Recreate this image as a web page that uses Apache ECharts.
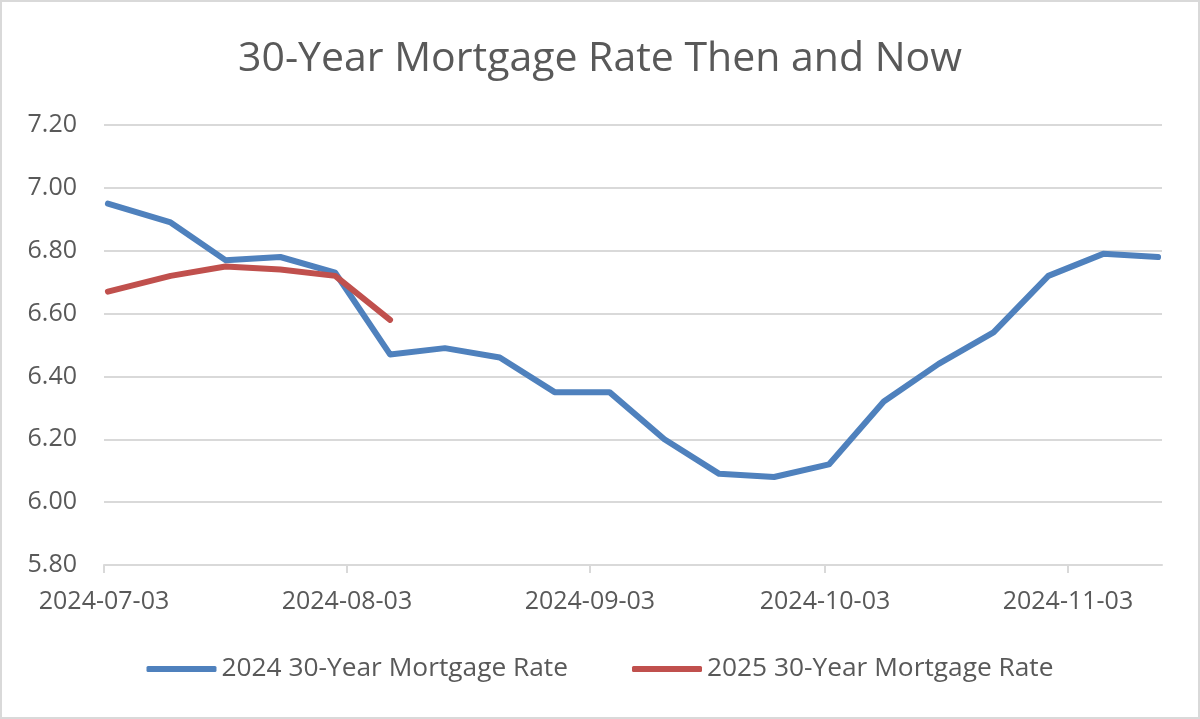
<!DOCTYPE html>
<html>
<head>
<meta charset="utf-8">
<script src="https://cdn.jsdelivr.net/npm/echarts@6/dist/echarts.min.js"></script>
<style>
  html, body { margin: 0; padding: 0; background: #fff; }
  #main { width: 1196px; height: 715px; border: 2px solid #d9d9d9; }
</style>
</head>
<body>
<div id="main"></div>
<script>
var dates = ['2024-07-03', '2024-07-11', '2024-07-18', '2024-07-25', '2024-08-01',
             '2024-08-08', '2024-08-15', '2024-08-22', '2024-08-29', '2024-09-05',
             '2024-09-12', '2024-09-19', '2024-09-26', '2024-10-03', '2024-10-10',
             '2024-10-17', '2024-10-24', '2024-10-31', '2024-11-07', '2024-11-14'];
var rate2024 = [6.95, 6.89, 6.77, 6.78, 6.73, 6.47, 6.49, 6.46, 6.35, 6.35,
                6.20, 6.09, 6.08, 6.12, 6.32, 6.44, 6.54, 6.72, 6.79, 6.78];
var rate2025 = [6.67, 6.72, 6.75, 6.74, 6.72, 6.58];
var tickDates = ['2024-07-03', '2024-08-03', '2024-09-03', '2024-10-03', '2024-11-03'];
var seriesNames = ['2024 30-Year Mortgage Rate', '2025 30-Year Mortgage Rate'];

// dates as whole days since epoch (UTC), so the axis is a plain day count
function dayNum(s) {
    var p = s.split('-');
    return Date.UTC(+p[0], +p[1] - 1, +p[2]) / 86400000;
}
// like an Excel date axis: a value sits in the middle of its day
function dayMid(s) { return dayNum(s) + 0.5; }
function pad(n) { return n < 10 ? '0' + n : '' + n; }

var tickValues = tickDates.map(dayNum);
var font = "'Open Sans', 'Liberation Sans', sans-serif";

var myChart = echarts.init(document.getElementById('main'));
var option = {
    backgroundColor: '#ffffff',
    animation: false,
    color: ['#4f81bd', '#c0504d'],
    title: {
        text: '30-Year Mortgage Rate Then and Now',
        left: 'center',
        top: 32,
        textStyle: {
            color: '#595959',
            fontFamily: font,
            fontWeight: 'normal',
            fontSize: 41
        }
    },
    legend: {
        bottom: 30,
        left: 'center',
        itemWidth: 70,
        itemHeight: 6,
        itemGap: 64,
        icon: 'roundRect',
        textStyle: {
            color: '#595959',
            fontFamily: font,
            fontSize: 26.3
        },
        data: seriesNames
    },
    grid: {
        left: 102,
        right: 36,
        top: 123,
        bottom: 152
    },
    xAxis: {
        type: 'value',
        min: dayNum(dates[0]),
        max: dayNum(dates[dates.length - 1]) + 1,
        axisLine: { lineStyle: { color: '#d9d9d9', width: 2 } },
        axisTick: {
            show: true,
            length: 8,
            customValues: tickValues,
            lineStyle: { color: '#d9d9d9', width: 2 }
        },
        splitLine: { show: false },
        axisLabel: {
            customValues: tickValues,
            color: '#595959',
            fontFamily: font,
            fontSize: 25,
            margin: 24,
            formatter: function (v) {
                var d = new Date(v * 86400000);
                return d.getUTCFullYear() + '-' + pad(d.getUTCMonth() + 1) + '-' + pad(d.getUTCDate());
            }
        }
    },
    yAxis: {
        type: 'value',
        min: 5.8,
        max: 7.2,
        interval: 0.2,
        axisLine: { show: false },
        axisTick: { show: false },
        splitLine: { lineStyle: { color: '#d9d9d9', width: 2 } },
        axisLabel: {
            color: '#595959',
            fontFamily: font,
            fontSize: 25,
            margin: 27,
            formatter: function (v) { return v.toFixed(2); }
        }
    },
    series: [
        {
            name: seriesNames[0],
            type: 'line',
            symbol: 'none',
            lineStyle: { width: 6, cap: 'round', join: 'round' },
            data: dates.map(function (d, i) { return [dayMid(d), rate2024[i]]; })
        },
        {
            name: seriesNames[1],
            type: 'line',
            symbol: 'none',
            lineStyle: { width: 6, cap: 'round', join: 'round' },
            data: rate2025.map(function (v, i) { return [dayMid(dates[i]), v]; })
        }
    ]
};
myChart.setOption(option, true);

window.addEventListener('resize', function () {
    myChart.resize();
});
</script>
</body>
</html>
